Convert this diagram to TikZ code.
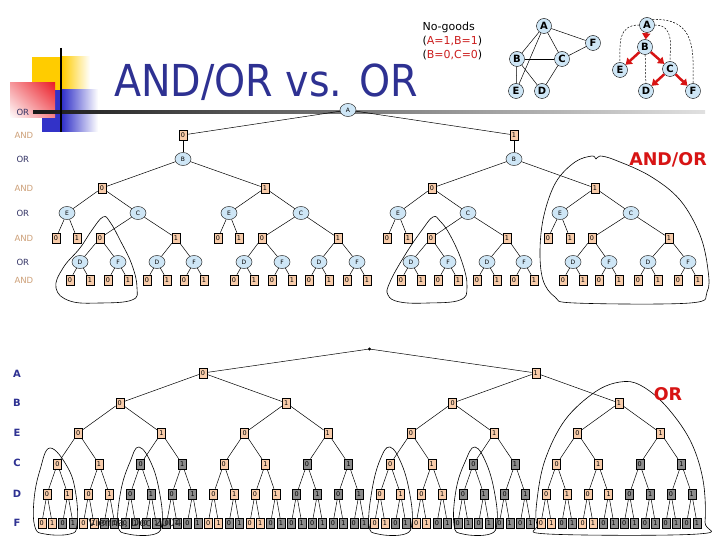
\documentclass[tikz,border=0pt]{standalone}
\usepackage{fontspec}
\setmainfont{DejaVu Sans}
\usetikzlibrary{shapes.geometric,arrows.meta,shadings}
\definecolor{peach}{RGB}{248,204,170}
\definecolor{nodegray}{RGB}{140,140,140}
\definecolor{orblue}{RGB}{206,230,246}
\definecolor{titleblue}{RGB}{46,49,146}
\definecolor{andtan}{RGB}{205,160,120}
\definecolor{ornavy}{RGB}{50,50,100}
\definecolor{nogoodred}{RGB}{204,30,30}
\definecolor{labred}{RGB}{215,20,20}
\definecolor{decoyellow}{RGB}{255,204,0}
\definecolor{decored}{RGB}{235,30,40}
\definecolor{decoblue}{RGB}{50,50,200}
\tikzset{
 ornode/.style={ellipse, draw=black!80, fill=orblue, minimum width=16pt, minimum height=13pt, inner sep=0pt, font=\fontsize{6}{6}\selectfont, line width=0.5pt},
 andnode/.style={rectangle, draw=black, fill=peach, minimum width=8pt, minimum height=10pt, inner sep=0pt, font=\fontsize{6.5}{6.5}\selectfont, line width=0.5pt},
 graynode/.style={andnode, fill=nodegray},
 st0/.style={andnode},
 st1/.style={graynode},
 gnode/.style={circle, draw=black, fill=orblue, minimum size=15pt, inner sep=0pt, font=\fontsize{10}{10}\selectfont\bfseries},
 lnk/.style={draw=black, line width=0.5pt},
 hull/.style={draw=black, line width=0.6pt},
 lvlor/.style={anchor=west, text=ornavy, font=\fontsize{8.5}{8.5}\selectfont},
 lvland/.style={anchor=west, text=andtan, font=\fontsize{8.5}{8.5}\selectfont},
 lvlvar/.style={text=titleblue, font=\fontsize{10}{10}\selectfont\bfseries},
 redarr/.style={draw=labred, line width=2.5pt, -{Triangle[length=6pt,width=8pt]}},
 dasharc/.style={draw=black, line width=0.5pt, dash pattern=on 2pt off 1.5pt},
 legtext/.style={anchor=west, font=\fontsize{11}{11}\selectfont},
}
\begin{document}
\begin{tikzpicture}[x=1pt,y=-1pt]
\useasboundingbox (0,0) rectangle (720,540);
\fill[white] (0,0) rectangle (720,540);
% decoration
\fill[decoyellow] (32,57) rectangle (62,90);
\shade[left color=decoyellow, right color=white] (62,57) rectangle (90,90);
\fill[decoblue] (42,90) rectangle (62,132);
\shade[left color=decoblue, right color=white] (62,90) rectangle (98,132);
\shade[upper left=decored!45, upper right=decored, lower left=white, lower right=decored!55] (10,83) rectangle (55,118);
\shade[left color=black!90, right color=black!12] (33,110.5) rectangle (705,113.5);
\draw[black, line width=2pt] (61,48) -- (61,132);
% title
\node[anchor=base, text=titleblue, font=\fontsize{44}{44}\selectfont] (title) at (266,97) {\scalebox{0.9}[1]{AND/OR vs. OR}};
% legend text
\node[legtext] (ng0) at (419,27) {No-goods};
\node[legtext] (ng1) at (419,41) {(\textcolor{nogoodred}{A=1,B=1})};
\node[legtext] (ng2) at (419,55) {(\textcolor{nogoodred}{B=0,C=0})};
% primal graph
\node[gnode] (gA) at (544,26) {A};
\node[gnode] (gF) at (593,43) {F};
\node[gnode] (gB) at (517,59) {B};
\node[gnode] (gC) at (562,59) {C};
\node[gnode] (gE) at (516,91) {E};
\node[gnode] (gD) at (542,91) {D};
\foreach \u/\v in {A/F,A/B,A/C,A/E,B/C,B/E,B/D,C/F,C/D} \draw[lnk] (g\u) -- (g\v);
% pseudo tree
\node[gnode] (hA) at (647,25) {A};
\node[gnode] (hB) at (645,47) {B};
\node[gnode] (hE) at (620,70) {E};
\node[gnode] (hC) at (670,69) {C};
\node[gnode] (hD) at (646,91) {D};
\node[gnode] (hF) at (693,91) {F};
\draw[dasharc] (hA.west) .. controls +(-22,0) and +(0,-18) .. (hE.north);
\draw[dasharc] (hA.east) .. controls +(20,0) and +(0,-15) .. (hC.north);
\draw[dasharc] (hA.north east) .. controls +(45,-2) and +(0,-30) .. (hF.north);
\draw[dasharc] (hB) -- (hD);
\foreach \u/\v in {A/B,B/E,B/C,C/D,C/F} \draw[redarr] (h\u) -- (h\v);
% level labels top
\node[lvlor] (lo1) at (13,112) {OR};
\node[lvland] (la1) at (11,135) {AND};
\node[lvlor] (lo2) at (13,159) {OR};
\node[lvland] (la2) at (11,188) {AND};
\node[lvlor] (lo3) at (13,213) {OR};
\node[lvland] (la3) at (11,238) {AND};
\node[lvlor] (lo4) at (13,262) {OR};
\node[lvland] (la4) at (11,280) {AND};
% AND/OR tree
\node[ornode] (A) at (348,110) {A};
\foreach \i/\x in {0/183, 1/514} {
  \node[andnode] (a\i) at (\x,135) {\i};
  \draw[lnk] (A) -- (a\i);
  \node[ornode] (b\i) at (\x,159) {B};
  \draw[lnk] (a\i) -- (b\i);
}
\foreach \p/\x/\v/\n in {0/102/0/0, 0/265/1/1, 1/432/0/2, 1/595/1/3} {
  \node[andnode] (ab\n) at (\x,188) {\v};
  \draw[lnk] (b\p) -- (ab\n);
}
\foreach \p/\ex/\cx in {0/67/138, 1/229/301, 2/398/468, 3/560/631} {
  \node[ornode] (e\p) at (\ex,213) {E};
  \node[ornode] (c\p) at (\cx,213) {C};
  \draw[lnk] (ab\p) -- (e\p);
  \draw[lnk] (ab\p) -- (c\p);
}
\foreach \p/\x/\y in {0/56/77, 1/218/239, 2/387/408, 3/548/570} {
  \node[andnode] (ea\p0) at (\x,238) {0};
  \node[andnode] (ea\p1) at (\y,238) {1};
  \draw[lnk] (e\p) -- (ea\p0);
  \draw[lnk] (e\p) -- (ea\p1);
}
\foreach \p/\x/\y in {0/100/176, 1/262/338, 2/431/507, 3/592/669} {
  \node[andnode] (ca\p0) at (\x,238) {0};
  \node[andnode] (ca\p1) at (\y,238) {1};
  \draw[lnk] (c\p) -- (ca\p0);
  \draw[lnk] (c\p) -- (ca\p1);
}
\foreach \p/\q/\dx/\fx in {0/0/80/118, 0/1/157/194, 1/0/244/282, 1/1/319/357, 2/0/411/448, 2/1/487/524, 3/0/573/609, 3/1/648/688} {
  \node[ornode] (d\p\q) at (\dx,262) {D};
  \node[ornode] (f\p\q) at (\fx,262) {F};
  \draw[lnk] (ca\p\q) -- (d\p\q);
  \draw[lnk] (ca\p\q) -- (f\p\q);
  \node[andnode] (l\p\q a) at (\dx-10,280) {0};
  \node[andnode] (l\p\q b) at (\dx+10,280) {1};
  \node[andnode] (l\p\q c) at (\fx-10,280) {0};
  \node[andnode] (l\p\q d) at (\fx+10,280) {1};
  \draw[lnk] (d\p\q) -- (l\p\q a);
  \draw[lnk] (d\p\q) -- (l\p\q b);
  \draw[lnk] (f\p\q) -- (l\p\q c);
  \draw[lnk] (f\p\q) -- (l\p\q d);
}
% hulls top
\draw[hull] plot[smooth cycle, tension=0.7] coordinates {(103,217) (92,230) (80,248) (63,268) (56,288) (70,301) (100,303) (132,300) (137,288) (132,265) (120,240) (110,222)};
\draw[hull] plot[smooth cycle, tension=0.7] coordinates {(433,217) (422,230) (405,255) (390,282) (388,295) (400,302) (428,303) (460,300) (467,287) (462,262) (450,235) (440,221)};
\draw[hull] plot[smooth cycle, tension=0.6] coordinates {(592,156) (575,162) (556,182) (544,215) (540,250) (543,280) (555,297) (575,303) (690,303) (707,292) (708,270) (700,235) (680,200) (650,176) (615,160) (600,156) (596,159)};
\node[text=labred, font=\fontsize{17.5}{17.5}\selectfont\bfseries] (andorlab) at (668,160) {AND/OR};
% OR tree labels
\foreach \t/\y in {A/374, B/403, E/433, C/463, D/494, F/523} \node[lvlvar] (v\t) at (17,\y) {\t};
% OR tree
\fill[black] (369.4,349) circle (1.6);
\coordinate (root) at (369.4,349);
\foreach \p in {0,1} {
  \pgfmathsetmacro\xx{203+332.8*\p}
  \node[andnode] (oa\p) at (\xx,373) {\p};
  \draw[lnk] (root) -- (oa\p);
}
\foreach \n in {0,...,3} {
  \pgfmathsetmacro\xx{119.8+166.4*\n}
  \pgfmathtruncatemacro\vv{mod(\n,2)}
  \pgfmathtruncatemacro\pp{floor(\n/2)}
  \node[andnode] (ob\n) at (\xx,403) {\vv};
  \draw[lnk] (oa\pp) -- (ob\n);
}
\foreach \m in {0,...,7} {
  \pgfmathsetmacro\xx{78.2+83.2*\m}
  \pgfmathtruncatemacro\vv{mod(\m,2)}
  \pgfmathtruncatemacro\pp{floor(\m/2)}
  \node[andnode] (oe\m) at (\xx,433) {\vv};
  \draw[lnk] (ob\pp) -- (oe\m);
}
\foreach \k in {0,...,15} {
  \pgfmathsetmacro\xx{57.4+41.6*\k}
  \pgfmathtruncatemacro\vv{mod(\k,2)}
  \pgfmathtruncatemacro\pp{floor(\k/2)}
  \pgfmathtruncatemacro\g{mod(floor(\k/2),2)}
  \node[st\g] (oc\k) at (\xx,464) {\vv};
  \draw[lnk] (oe\pp) -- (oc\k);
}
\foreach \j in {0,...,31} {
  \pgfmathsetmacro\xx{47+20.8*\j}
  \pgfmathtruncatemacro\vv{mod(\j,2)}
  \pgfmathtruncatemacro\pp{floor(\j/2)}
  \pgfmathtruncatemacro\g{mod(floor(\j/4),2)}
  \node[st\g] (od\j) at (\xx,494) {\vv};
  \draw[lnk] (oc\pp) -- (od\j);
}
\foreach \i in {0,...,63} {
  \pgfmathsetmacro\xx{41.8+10.4*\i}
  \pgfmathtruncatemacro\vv{mod(\i,2)}
  \pgfmathtruncatemacro\pp{floor(\i/2)}
  \pgfmathtruncatemacro\g{min(1,mod(\pp,2)+mod(floor(\pp/4),2))}
  \node[st\g] (of\i) at (\xx,523) {\vv};
  \draw[lnk] (od\pp) -- (of\i);
}
% hulls OR tree
\draw[hull] plot[smooth cycle, tension=0.7] coordinates {(50,448) (40,470) (34,500) (35,527) (45,534) (70,534) (77,525) (76,495) (68,468)};
\draw[hull] plot[smooth cycle, tension=0.7] coordinates {(139,447) (130,462) (121,490) (118,525) (128,534) (155,534) (162,522) (160,495) (152,465)};
\draw[hull] plot[smooth cycle, tension=0.7] coordinates {(390,447) (380,460) (372,490) (369,525) (378,534) (405,534) (412,522) (410,495) (402,465)};
\draw[hull] plot[smooth cycle, tension=0.7] coordinates {(475,447) (465,462) (456,490) (454,525) (463,534) (490,534) (497,522) (495,495) (487,465)};
\draw[hull] plot[smooth cycle, tension=0.6] coordinates {(620,382) (595,392) (565,420) (545,460) (537,500) (537,525) (548,534) (698,534) (705,522) (703,480) (690,440) (665,405) (640,385)};
\node[text=labred, font=\fontsize{17.5}{17.5}\selectfont\bfseries] (orlab) at (668,394) {OR};
% footer
\node[text=black!85, font=\fontsize{10.5}{10.5}\selectfont] (footer) at (135,523) {Vienna, Dec 2004};
\end{tikzpicture}
\end{document}
